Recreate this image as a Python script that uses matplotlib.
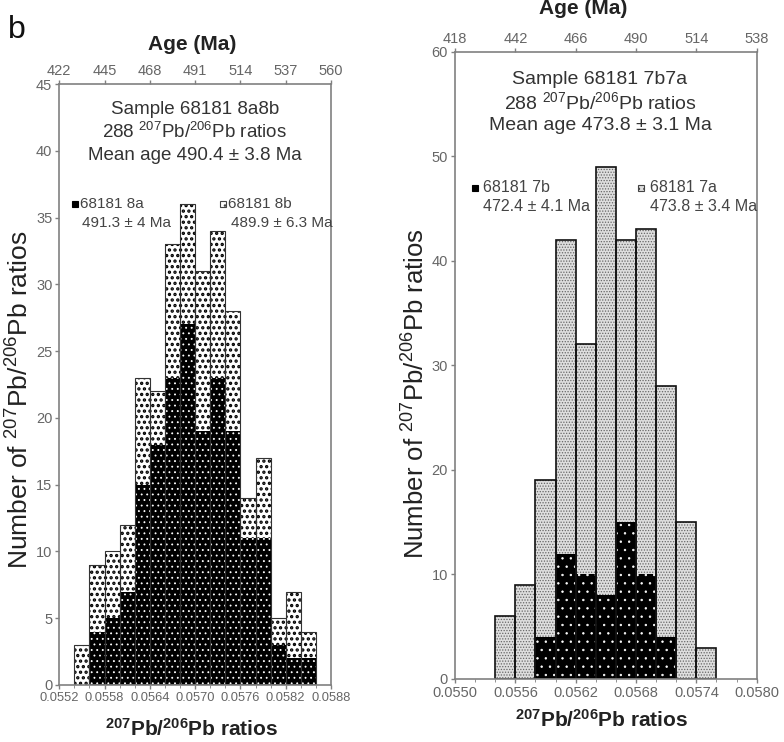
import numpy as np
import matplotlib
matplotlib.use('Agg')
import matplotlib.pyplot as plt
from matplotlib.patches import Rectangle

plt.rcParams['font.family'] = ['Liberation Sans', 'DejaVu Sans']
plt.rcParams['mathtext.default'] = 'regular'

# sample 68181 8a8b (left)
left_start = 0.0554
left_bw = 0.0002
left_8a = [0, 4, 5, 7, 15, 18, 23, 27, 19, 23, 19, 11, 11, 3, 2, 2]
left_total = [3, 9, 10, 12, 23, 22, 33, 36, 31, 34, 28, 14, 17, 5, 7, 4]
left_xticks = [0.0552, 0.0558, 0.0564, 0.0570, 0.0576, 0.0582, 0.0588]
left_ages = ['422', '445', '468', '491', '514', '537', '560']

# sample 68181 7b7a (right)
right_start = 0.0554
right_bw = 0.0002
right_7b = [0, 0, 4, 12, 10, 8, 15, 10, 4, 0, 0]
right_total = [6, 9, 19, 42, 32, 49, 42, 43, 28, 15, 3]
right_xticks = [0.0550, 0.0556, 0.0562, 0.0568, 0.0574, 0.0580]
right_ages = ['418', '442', '466', '490', '514', '538']

W, H = 784, 742
fig = plt.figure(figsize=(W / 100, H / 100), dpi=100)

def fx(px):
    return px / W

def fy(py):
    return 1 - py / H

grey = '#666666'
spine = '#808080'
dark = '#222222'

def style_axes(ax, xticks, ages, ylim, ystep, xsize):
    ax.set_xlim(xticks[0], xticks[-1])
    ax.set_ylim(0, ylim)
    ax.set_xticks(xticks)
    ax.set_xticklabels(['%.4f' % t for t in xticks])
    ax.set_xticks(np.arange(xticks[0], xticks[-1] + 1e-9, 0.0002), minor=True)
    ax.set_yticks(np.arange(0, ylim + 1, ystep))
    for s in ax.spines.values():
        s.set_color(spine)
        s.set_linewidth(1.2)
    ax.tick_params(axis='both', colors=spine, labelcolor=grey, labelsize=10.5,
                   length=3, width=1, pad=2)
    ax.tick_params(axis='x', labelsize=xsize)
    ax.tick_params(axis='x', which='minor', length=2, colors=spine)
    top = ax.twiny()
    top.set_xlim(ax.get_xlim())
    top.set_xticks(xticks)
    top.set_xticklabels(ages)
    top.tick_params(axis='x', colors=spine, labelcolor=grey, labelsize=10.5,
                    length=3, width=1, pad=1)
    for s in top.spines.values():
        s.set_visible(False)
    return top

def draw_stack(ax, start, bw, low, total, lowcol, lowhatch, lowhw, highcol,
               highhatch, highhw, hatchcol_low, hatchcol_high, edge, lw):
    n = len(total)
    x = start + bw * np.arange(n)
    high = np.array(total) - np.array(low)
    with plt.rc_context({'hatch.linewidth': lowhw}):
        ax.bar(x, low, width=bw, align='edge', color=lowcol, hatch=lowhatch,
               edgecolor=hatchcol_low, linewidth=0)
    with plt.rc_context({'hatch.linewidth': highhw}):
        ax.bar(x, high, width=bw, bottom=low, align='edge', color=highcol,
               hatch=highhatch, edgecolor=hatchcol_high, linewidth=0)
    ax.bar(x, total, width=bw, align='edge', fill=False, edgecolor=edge,
           linewidth=lw)

# left panel
ax1 = fig.add_axes([fx(59.3), fy(685), fx(331) - fx(59.3), fy(84) - fy(685)])
draw_stack(ax1, left_start, left_bw, left_8a, left_total,
           'black', '...', 0.6, 'white', '...', 1.6, 'white', 'black',
           '#333333', 0.8)
style_axes(ax1, left_xticks, left_ages, 45, 5, 9.3)

# right panel
ax2 = fig.add_axes([fx(455), fy(679), fx(756.7) - fx(455), fy(51.7) - fy(679)])
draw_stack(ax2, right_start, right_bw, right_7b, right_total,
           'black', '..', 0.5, '#dedede', '......', 0.6, 'white', '#666666',
           '#111111', 1.2)
style_axes(ax2, right_xticks, right_ages, 60, 10, 10.5)

ylab = 'Number of $^{207}$Pb/$^{206}$Pb ratios'
xlab = '$^{207}$Pb/$^{206}$Pb ratios'
fig.text(fx(20), fy(400), ylab, rotation=90, ha='center', va='center',
         fontsize=19, color=dark)
fig.text(fx(416), fy(394), ylab, rotation=90, ha='center', va='center',
         fontsize=18.5, color=dark)
fig.text(fx(192), fy(729), xlab, ha='center', va='center', fontsize=15,
         fontweight='bold', color=dark)
fig.text(fx(602), fy(720), xlab, ha='center', va='center', fontsize=15,
         fontweight='bold', color=dark)
fig.text(fx(192), fy(45), 'Age (Ma)', ha='center', va='center', fontsize=15,
         fontweight='bold', color=dark)
fig.text(fx(583), fy(9), 'Age (Ma)', ha='center', va='center', fontsize=15,
         fontweight='bold', color=dark)
fig.text(fx(8), fy(30), 'b', ha='left', va='center', fontsize=23,
         color='#111111')

info_left = ['Sample 68181 8a8b', '288 $^{207}$Pb/$^{206}$Pb ratios',
             'Mean age 490.4 \u00b1 3.8 Ma']
for txt, py in zip(info_left, [110, 132, 155]):
    fig.text(fx(195), fy(py), txt, ha='center', va='center', fontsize=13.5,
             color='#333333')
info_right = ['Sample 68181 7b7a', '288 $^{207}$Pb/$^{206}$Pb ratios',
              'Mean age 473.8 \u00b1 3.1 Ma']
for txt, py in zip(info_right, [79, 102, 126]):
    fig.text(fx(600), fy(py), txt, ha='center', va='center', fontsize=14,
             color='#333333')

def key(px, py, fc, hatch, hc, title, age, tx, age_x, age_y, size):
    r = Rectangle((fx(px), fy(py + 3)), fx(6), 6 / H, transform=fig.transFigure,
                  facecolor=fc, edgecolor=hc, hatch=hatch, linewidth=0.8)
    fig.patches.append(r)
    fig.text(fx(tx), fy(py), title, ha='left', va='center', fontsize=size,
             color='#444444')
    fig.text(fx(age_x), fy(age_y), age, ha='left', va='center', fontsize=size,
             color='#444444')

key(72, 204, 'black', None, 'black', '68181 8a', '491.3 \u00b1 4 Ma',
    80, 82, 223, 11)
key(220, 204, 'white', '...', '#444444', '68181 8b', '489.9 \u00b1 6.3 Ma',
    228, 231, 223, 11)
key(472, 188, 'black', None, 'black', '68181 7b', '472.4 \u00b1 4.1 Ma',
    483, 483, 207, 11.5)
key(638, 188, '#dddddd', '...', '#444444', '68181 7a', '473.8 \u00b1 3.4 Ma',
    650, 650, 207, 11.5)

fig.savefig('out.png', dpi=100)
